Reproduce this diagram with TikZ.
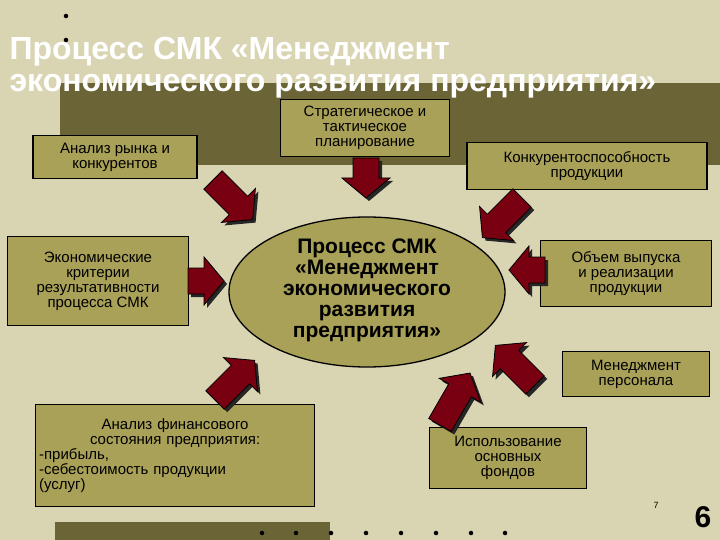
\documentclass[tikz,border=0pt]{standalone}
\usepackage{fontspec}
\setmainfont{Liberation Sans}
\usetikzlibrary{shapes.geometric}
\definecolor{bg}{HTML}{D9D5B2}
\definecolor{band}{HTML}{6A6436}
\definecolor{boxf}{HTML}{A9A157}
\definecolor{arr}{HTML}{780010}
\newcommand{\blkarrow}[4]{% x,y,screen angle clockwise,length
\begin{scope}[shift={(#1+3,#2+3)},rotate=-#3]
\fill[black!85] (0,-13)--(#4-20,-13)--(#4-20,-24)--(#4,0)--(#4-20,24)--(#4-20,13)--(0,13)--cycle;
\end{scope}
\begin{scope}[shift={(#1,#2)},rotate=-#3]
\filldraw[fill=arr,draw=black,line width=0.8pt] (0,-13)--(#4-20,-13)--(#4-20,-24)--(#4,0)--(#4-20,24)--(#4-20,13)--(0,13)--cycle;
\end{scope}}
\begin{document}
\begin{tikzpicture}[x=1pt,y=-1pt,
 bx/.style={draw=black,line width=1.2pt,fill=boxf,font=\fontsize{15}{15}\selectfont,align=center,inner sep=2pt},
 dot/.style={fill=black,circle,inner sep=1.6pt}]
\fill[bg] (0,0) rectangle (720,540);
\useasboundingbox (0,0) rectangle (720,540);
\fill[band] (60,83) rectangle (720,165);
\fill[band] (55,522) rectangle (330,540);
\foreach \p in {(66,16),(66,40),(262,533),(296,533),(331,533),(366,533),(401,533),(436,533),(471,533),(505,533)} \node[dot] at \p {};
\node[anchor=west,text=white,font=\fontsize{32}{32}\selectfont\bfseries,align=left] (title) at (6,68) {Процесс СМК «Менеджмент\\экономического развития предприятия»};
% ellipse
\node[draw=black,line width=1.3pt,fill=boxf,ellipse,minimum width=276,minimum height=150,inner sep=0pt] (ell) at (367,292) {};
\node[font=\fontsize{21}{21}\selectfont\bfseries,align=center] (etext) at (367,290) {Процесс СМК\\«Менеджмент\\экономического\\развития\\предприятия»};
% boxes
\node[bx,minimum width=164,minimum height=43] (b1) at (115,157) {Анализ рынка и\\конкурентов};
\node[bx,minimum width=169,minimum height=57,anchor=north] (b2) at (365,99) {Стратегическое и\\тактическое\\планирование};
\node[bx,minimum width=240,minimum height=47] (b3) at (587,166) {Конкурентоспособность\\продукции};
\node[bx,minimum width=181,minimum height=89] (b4) at (98,281) {Экономические\\критерии\\результативности\\процесса СМК};
\node[bx,minimum width=171,minimum height=66,anchor=north] (b5) at (626,240) {Объем выпуска\\и реализации\\продукции};
\node[bx,minimum width=147,minimum height=45] (b6) at (636,374) {Менеджмент\\персонала};
\node[bx,minimum width=279,minimum height=102,anchor=north west,align=left,text width=272] (b7) at (35,404) {\centering Анализ финансового\\состояния предприятия:\par\raggedright -прибыль,\\-себестоимость продукции\\(услуг)};
\node[bx,minimum width=157,minimum height=61] (b8) at (508,458) {Использование\\основных\\фондов};
\node[font=\fontsize{9}{9}\selectfont] (n7) at (656,505) {7};
\node[font=\fontsize{30}{30}\selectfont\bfseries] (n6) at (703,517) {6};
% arrows
\blkarrow{366}{158}{90}{40}
\blkarrow{188}{281}{0}{36}
\blkarrow{545}{270}{180}{36}
\blkarrow{213}{180}{45}{56}
\blkarrow{522}{198}{135}{56}
\blkarrow{215}{400}{-45}{56}
\blkarrow{535}{385}{-135}{56}
\blkarrow{440}{425}{-60}{60}
\end{tikzpicture}
\end{document}
